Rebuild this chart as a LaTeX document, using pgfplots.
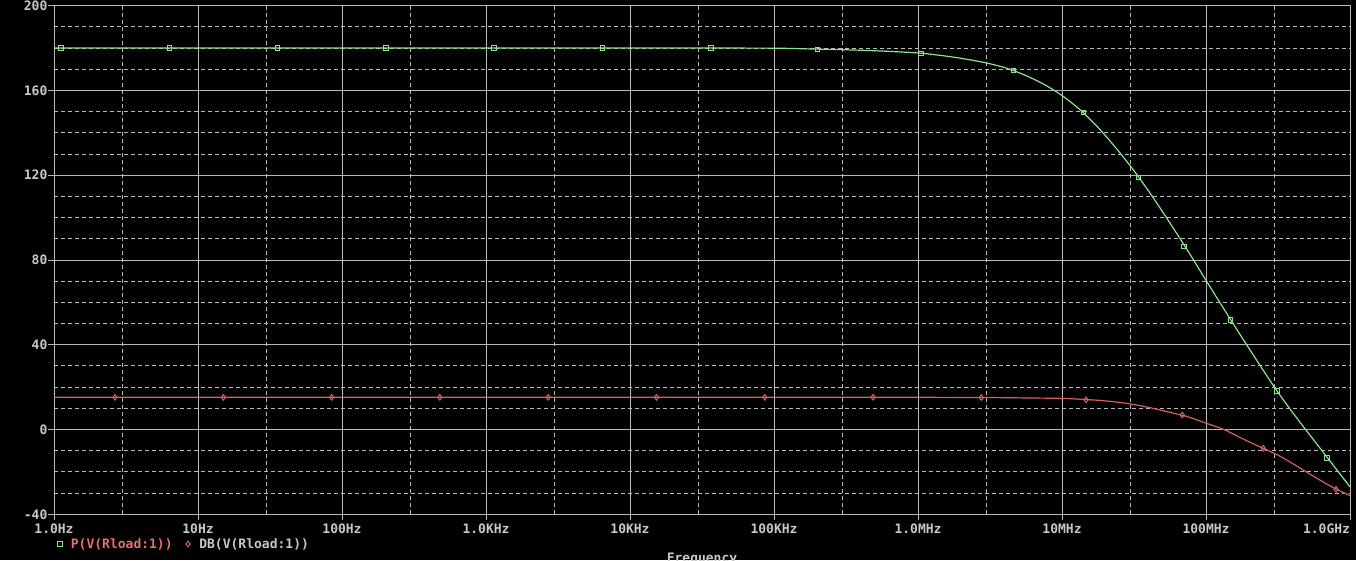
\documentclass[border=0pt]{standalone}
\usepackage{fontspec}
\setmonofont{DejaVu Sans Mono}
\usepackage{pgfplots}
\pgfplotsset{compat=1.18}
\definecolor{gridc}{RGB}{185,185,185}
\definecolor{txt}{RGB}{200,200,200}
\definecolor{trg}{RGB}{140,228,140}
\definecolor{trr}{RGB}{215,95,95}
\definecolor{legr}{RGB}{235,110,110}
\newcommand{\lblfont}{\fontsize{13}{13}\selectfont\ttfamily\bfseries}
\begin{document}
\begin{tikzpicture}
\fill[black] (0,0) rectangle (1356pt,560pt);
\begin{axis}[
  at={(54pt,45.7pt)}, anchor=south west,
  scale only axis, width=1296pt, height=508.6pt,
  xmode=log, log basis x=10,
  xmin=1, xmax=1e9, ymin=-40, ymax=200,
  xtick={1,10,100,1000,1e4,1e5,1e6,1e7,1e8,1e9},
  xticklabels={1.0Hz,10Hz,100Hz,1.0KHz,10KHz,100KHz,1.0MHz,10MHz,100MHz,\makebox[0pt][r]{1.0GHz}},
  minor xtick={3,30,300,3000,3e4,3e5,3e6,3e7,3e8},
  ytick={-40,0,40,80,120,160,200},
  yticklabels={-40,0,40,80,120,160,200},
  minor ytick={-30,-20,-10,10,20,30,50,60,70,90,100,110,130,140,150,170,180,190},
  grid=both,
  major grid style={gridc, line width=1pt, solid},
  minor grid style={gridc, line width=1pt, dash pattern=on 4pt off 3pt},
  axis line style={gridc, line width=1pt},
  tick style={gridc, line width=1pt},
  major tick length=6pt, minor tick length=0pt,
  tick align=outside,
  xtick pos=lower, ytick pos=left,
  ticklabel style={font=\lblfont, text=txt},
  yticklabel style={inner sep=0.4pt},
  legend style={at={(axis description cs:0,-0.0584)}, anchor=west, draw=none, fill=none,
    legend columns=2, font=\lblfont, text=txt, inner sep=0pt,
    /tikz/every even column/.append style={column sep=8pt}},
  legend cell align=left,
  legend image code/.code={\path (0pt,0pt) (13.7pt,0pt); \draw[#1] plot coordinates {(5pt,0pt)};},
]
% phase curve
\addplot[trg, line width=1.2pt, smooth, tension=0.5, forget plot] coordinates {
(1,180) (1e3,180) (1e4,180) (3.16e4,180) (1e5,179.95) (1.778e5,179.6) (3.162e5,179.2)
(5.623e5,178.6) (1e6,177.7) (1.334e6,176.8) (1.778e6,175.7) (2.371e6,174.3)
(3.162e6,172.6) (4.217e6,170.3) (5.623e6,167.0) (7.499e6,162.9) (1e7,157.6)
(1.334e7,150.9) (1.778e7,142.6) (2.371e7,132.8) (3.162e7,122.1) (4.217e7,110.2)
(5.623e7,97.4) (7.499e7,84.2) (1e8,70.4) (1.334e8,56.8) (1.778e8,43.4)
(2.371e8,30.3) (3.162e8,17.5) (4.217e8,5.9) (5.623e8,-5.1) (7.499e8,-16.1) (1e9,-27.1)
};
% dB curve
\addplot[trr, line width=1.2pt, smooth, tension=0.5, forget plot] coordinates {
(1,15.2) (1e4,15.2) (1e5,15.2) (1e6,15.2) (1.778e6,15.15) (3.162e6,15.1) (5.623e6,14.9)
(1e7,14.7) (1.334e7,14.3) (1.778e7,13.8) (2.371e7,13.0) (3.162e7,11.8)
(4.217e7,10.1) (5.623e7,8.1) (7.499e7,6.0) (1e8,3.0) (1.334e8,0.0)
(1.778e8,-4.2) (2.371e8,-8.2) (3.162e8,-12.1) (4.217e8,-17.0) (5.623e8,-22.2)
(7.499e8,-27.1) (1e9,-31.2)
};
% markers
\addplot[only marks, mark=square, mark size=2.3pt, trg, line width=1pt, mark options={fill=black}] coordinates {
(1.12,180) (6.32,180) (35.7,180) (202,180) (1140,180) (6440,180) (36400,180)
(2.0e5,179.4) (1.05e6,177.5) (4.59e6,169.4) (1.406e7,149.6) (3.39e7,118.9)
(7.06e7,86.4) (1.479e8,51.8) (3.10e8,18.3) (6.95e8,-13.4)
};
\addlegendentry{\textcolor{legr}{P(V(Rload:1))}}
\addplot[only marks, mark=diamond, mark size=2.8pt, trr, line width=1pt, mark options={fill=black}] coordinates {
(2.65,15.2) (15.0,15.2) (84.7,15.2) (478,15.2) (2704,15.2) (15280,15.2)
(86300,15.2) (487600,15.2) (2.75e6,15.1) (1.469e7,14.0) (6.84e7,6.9)
(2.5e8,-8.8) (8.0e8,-28.2)
};
\addlegendentry{DB(V(Rload:1))}
\end{axis}
\node[font=\lblfont, text=txt, anchor=base, inner sep=0pt] at (702pt,-2.5pt) {Frequency};
\pgfresetboundingbox
\useasboundingbox (0,0) rectangle (1356pt,560pt);
\end{tikzpicture}
\end{document}
